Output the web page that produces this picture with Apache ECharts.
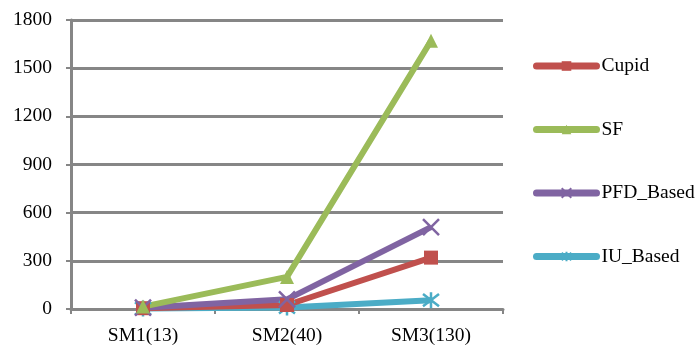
<!DOCTYPE html>
<html><head><meta charset="utf-8">
<script src="https://cdn.jsdelivr.net/npm/echarts@6/dist/echarts.min.js"></script>
<style>html,body{margin:0;padding:0;background:#fff}#c{width:697px;height:351px}</style>
</head><body><div id="c"></div>
<script>
const categories = ['SM1(13)', 'SM2(40)', 'SM3(130)'];
const cupid = [5, 25, 320];
const sf = [15, 200, 1670];
const pfdBased = [8, 60, 510];
const iuBased = [3, 10, 55];
const yTicks = [0, 300, 600, 900, 1200, 1500, 1800];

const font = 'Liberation Serif, Times New Roman, serif';
const xPath = 'path://M0,0L10,10M10,0L0,10';
const starPath = 'path://M0,0L10,10M10,0L0,10M5,-1.5L5,11.5';

function mk(name, data, color, symbol, stroke) {
  return {
    name, type: 'line', data,
    lineStyle: { width: 6, color },
    itemStyle: stroke ? { color: 'none', borderColor: color, borderWidth: 2.5 } : { color },
    symbol, symbolSize: stroke ? 16 : 14,
    showSymbol: true,
    emphasis: { disabled: true }
  };
}

const colors = { Cupid: '#C0504D', SF: '#9BBB59', PFD_Based: '#8064A2', IU_Based: '#4BACC6' };
const legendNames = ['Cupid', 'SF', 'PFD_Based', 'IU_Based'];

const chart = echarts.init(document.getElementById('c'));
chart.setOption({
  animation: false,
  grid: { left: 71, right: 194, top: 20, bottom: 42 },
  xAxis: {
    type: 'category', data: categories, boundaryGap: true,
    axisLine: { lineStyle: { color: '#868686', width: 3 } },
    axisTick: { show: true, length: 5, lineStyle: { color: '#868686', width: 2 } },
    axisLabel: { color: '#000', fontFamily: font, fontSize: 19.5, margin: 17 }
  },
  yAxis: {
    type: 'value', min: 0, max: 1800, interval: 300,
    axisLine: { show: true, lineStyle: { color: '#868686', width: 3 } },
    axisTick: { show: true, length: 5, lineStyle: { color: '#868686', width: 2 } },
    splitLine: { lineStyle: { color: '#868686', width: 3 } },
    axisLabel: { color: '#000', fontFamily: font, fontSize: 19.5, margin: 19,
      formatter: v => yTicks.includes(v) ? String(v) : '' }
  },
  legend: {
    orient: 'vertical', left: 533, top: 56, padding: 0,
    itemWidth: 60, itemHeight: 12, itemGap: 43.5,
    textStyle: { color: '#000', fontFamily: font, fontSize: 19.5 },
    data: legendNames.map(n => ({ name: n, lineStyle: { width: 7, color: colors[n], cap: 'round' } }))
  },
  series: [
    mk('IU_Based', iuBased, colors.IU_Based, starPath, true),
    mk('Cupid', cupid, colors.Cupid, 'rect', false),
    mk('PFD_Based', pfdBased, colors.PFD_Based, xPath, true),
    mk('SF', sf, colors.SF, 'triangle', false)
  ]
});
</script></body></html>
